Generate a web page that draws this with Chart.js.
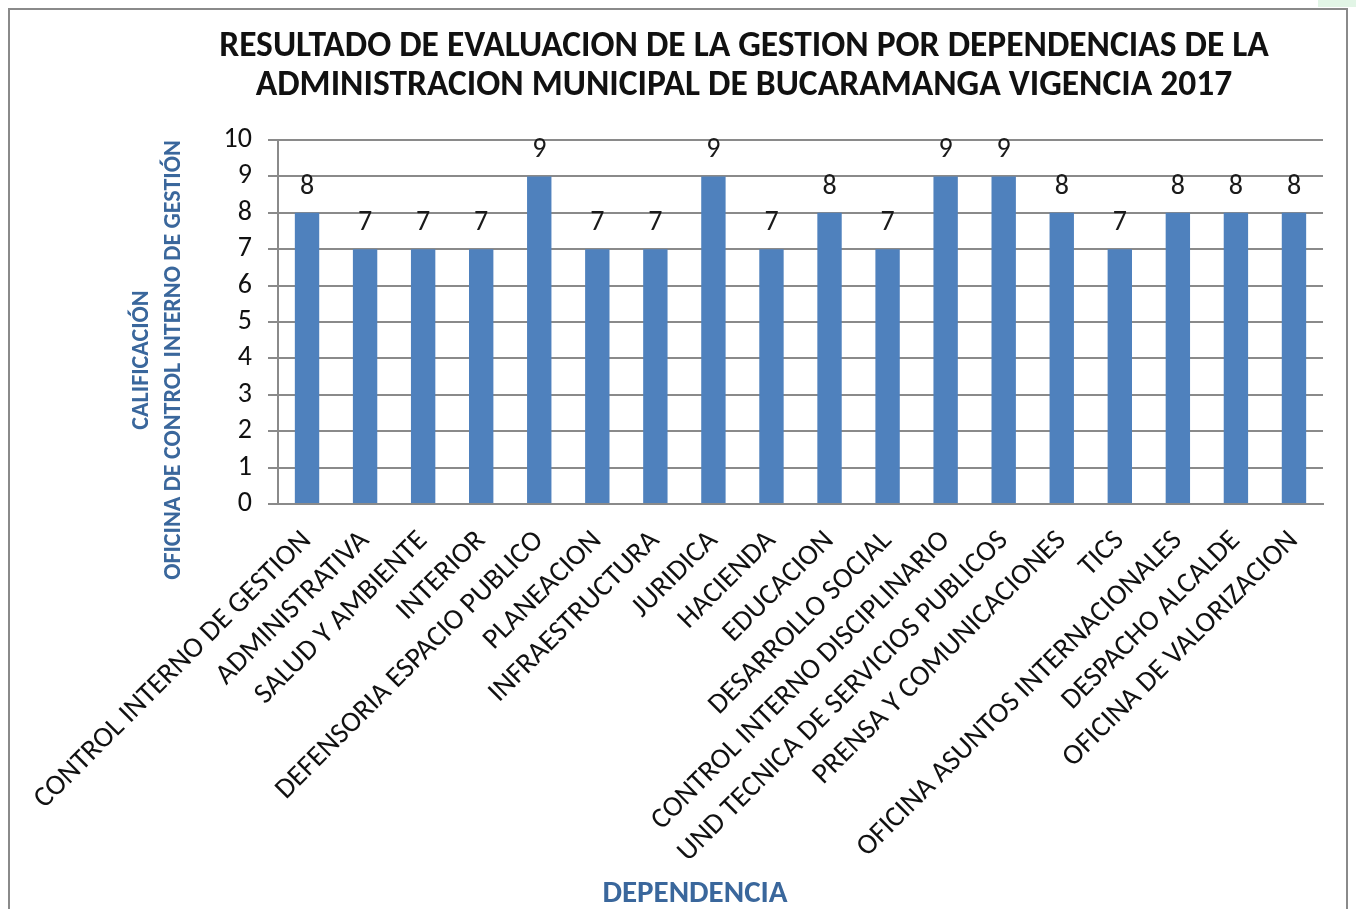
<!DOCTYPE html>
<html><head><meta charset="utf-8">
<script src="https://cdn.jsdelivr.net/npm/chart.js@4.4.0/dist/chart.umd.min.js"></script>
<style>
html,body{margin:0;padding:0;background:#fff;width:1356px;height:909px;overflow:hidden;position:relative;font-family:Carlito,Lato,sans-serif}
#frame{position:absolute;left:8px;top:8px;width:1340px;height:960px;border:2px solid #8a8a8a;box-sizing:border-box}
#patch{position:absolute;left:1318px;top:0;width:38px;height:7px;background:#e2f5e6}
#wrap{position:absolute;left:0;top:0;width:1356px;height:909px}
#title{position:absolute;left:0;top:25px;width:1488px;text-align:center;font-weight:700;font-size:35.5px;line-height:39px;color:#111}
#ytitle{position:absolute;left:-144px;top:328px;width:600px;height:64px;text-align:center;font-weight:700;font-size:24px;line-height:32px;color:#3a679c;transform:rotate(-90deg);transform-origin:50% 50%}
#xtitle{position:absolute;left:495px;top:872px;width:400px;text-align:center;font-weight:700;font-size:31px;line-height:38px;color:#3a679c}
</style></head>
<body>
<div id="frame"></div>
<div id="patch"></div>
<div id="wrap"><canvas id="c" width="1356" height="909"></canvas></div>
<div id="title">RESULTADO DE EVALUACION DE LA GESTION POR DEPENDENCIAS DE LA<br>ADMINISTRACION MUNICIPAL DE BUCARAMANGA VIGENCIA 2017</div>
<div id="ytitle">CALIFICACIÓN<br>OFICINA DE CONTROL INTERNO DE GESTIÓN</div>
<div id="xtitle">DEPENDENCIA</div>
<script>
const categories = [
  "CONTROL INTERNO DE GESTION","ADMINISTRATIVA","SALUD Y AMBIENTE","INTERIOR",
  "DEFENSORIA ESPACIO PUBLICO","PLANEACION","INFRAESTRUCTURA","JURIDICA","HACIENDA",
  "EDUCACION","DESARROLLO SOCIAL","CONTROL INTERNO DISCIPLINARIO",
  "UND TECNICA DE SERVICIOS PUBLICOS","PRENSA Y COMUNICACIONES","TICS",
  "OFICINA ASUNTOS INTERNACIONALES","DESPACHO ALCALDE","OFICINA DE VALORIZACION"
];
const values = [8,7,7,7,9,7,7,9,7,8,7,9,9,8,7,8,8,8];
const yTicks = [0,1,2,3,4,5,6,7,8,9,10];

const FONT = "Carlito, Lato, sans-serif";
const valueLabels = {
  id: 'valueLabels',
  afterDatasetsDraw(chart) {
    const ctx = chart.ctx;
    const meta = chart.getDatasetMeta(0);
    ctx.save();
    ctx.font = "28px " + FONT;
    ctx.fillStyle = '#1a1a1a';
    ctx.textAlign = 'center';
    ctx.textBaseline = 'middle';
    meta.data.forEach((bar, i) => {
      ctx.fillText(String(values[i]), bar.x, bar.y - 26);
    });
    ctx.restore();
  }
};

new Chart(document.getElementById('c'), {
  type: 'bar',
  data: {
    labels: categories,
    datasets: [{
      data: values,
      backgroundColor: '#4f81bd',
      borderWidth: 0,
      barPercentage: 0.42,
      categoryPercentage: 1.0
    }]
  },
  options: {
    responsive: false,
    animation: false,
    layout: { padding: { top: 140, right: 33, left: 0, bottom: 0 } },
    plugins: { legend: { display: false }, title: { display: false }, tooltip: { enabled: false } },
    scales: {
      x: {
        grid: { display: false },
        border: { display: true, color: '#8a8a8a', width: 2 },
        ticks: {
          autoSkip: false, maxRotation: 45, minRotation: 45,
          font: { size: 29, family: FONT }, color: '#111', padding: 12
        },
        afterFit(s) { s.height = 405; }
      },
      y: {
        min: 0, max: 10,
        afterBuildTicks(s) { s.ticks = yTicks.map(v => ({ value: v })); },
        grid: { color: '#8a8a8a', lineWidth: 2, tickLength: 10, drawTicks: true },
        border: { display: true, color: '#8a8a8a', width: 2 },
        ticks: { autoSkip: false, font: { size: 28, family: FONT }, color: '#111', padding: 16 },
        afterFit(s) { s.width = 278; }
      }
    }
  },
  plugins: [valueLabels]
});
</script>
</body></html>
